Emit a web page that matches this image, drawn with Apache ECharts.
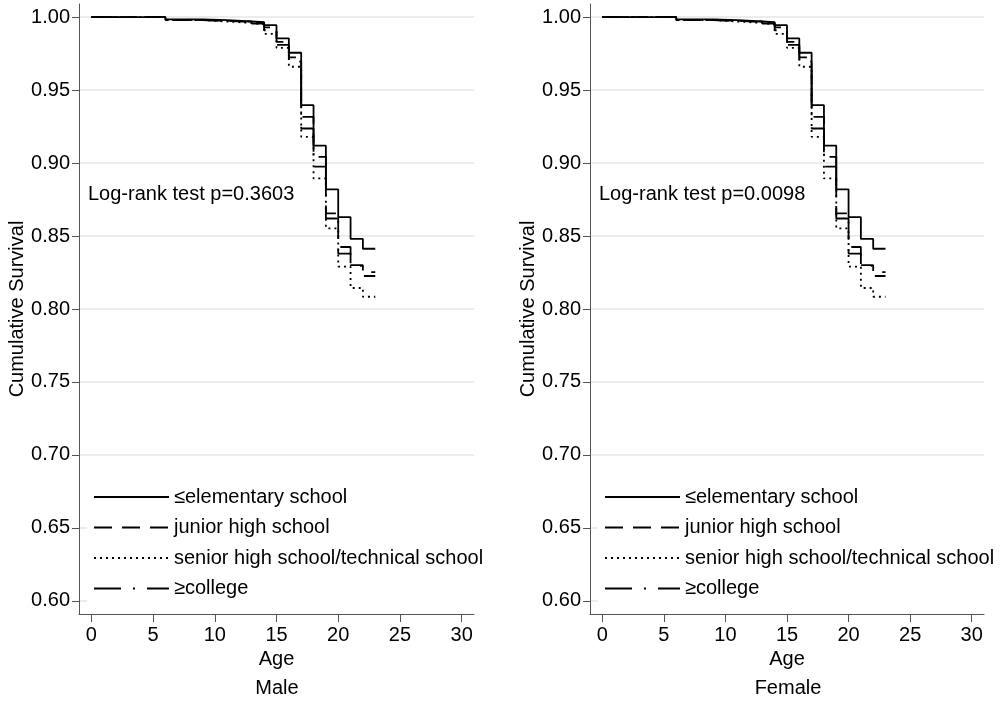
<!DOCTYPE html>
<html>
<head>
<meta charset="utf-8">
<script src="https://cdn.jsdelivr.net/npm/echarts@6/dist/echarts.min.js"></script>
<style>
html,body{margin:0;padding:0;background:#fff;}
#c{width:1004px;height:702px;}
</style>
</head>
<body>
<div id="c"></div>
<script>
// ---- data ----
const ages = [0, 6, 9, 11, 13, 14, 15, 16, 17, 18, 19, 20, 21, 22, 23];
const seriesNames = ['≤elementary school', 'junior high school', 'senior high school/technical school', '≥college'];

const maleElementary = [1, 0.9985, 0.998, 0.997, 0.9965, 0.9945, 0.9854, 0.9756, 0.9397, 0.9119, 0.882, 0.863, 0.848, 0.8413, 0.8413];
const maleJunior     = [1, 0.998, 0.9975, 0.9965, 0.996, 0.993, 0.983, 0.9724, 0.9317, 0.9043, 0.8655, 0.8425, 0.830, 0.8253, 0.8253];
const maleSenior     = [1, 0.998, 0.997, 0.996, 0.995, 0.9885, 0.979, 0.966, 0.918, 0.8895, 0.8553, 0.829, 0.8144, 0.8084, 0.8084];
const maleCollege    = [1, 0.998, 0.9975, 0.997, 0.9955, 0.991, 0.981, 0.9695, 0.9237, 0.8975, 0.862, 0.838, 0.8295, 0.8226, 0.8226];

const femaleElementary = [1, 0.9985, 0.998, 0.997, 0.9965, 0.9945, 0.9854, 0.9756, 0.9397, 0.9119, 0.882, 0.863, 0.848, 0.8413, 0.8413];
const femaleJunior     = [1, 0.998, 0.9975, 0.9965, 0.996, 0.993, 0.983, 0.9724, 0.9317, 0.9043, 0.8655, 0.8425, 0.830, 0.8253, 0.8253];
const femaleSenior     = [1, 0.998, 0.997, 0.996, 0.995, 0.9885, 0.979, 0.966, 0.918, 0.8895, 0.8553, 0.829, 0.8144, 0.8084, 0.8084];
const femaleCollege    = [1, 0.998, 0.9975, 0.997, 0.9955, 0.991, 0.981, 0.9695, 0.9237, 0.8975, 0.862, 0.838, 0.8295, 0.8226, 0.8226];

const xTicks = [0, 5, 10, 15, 20, 25, 30];
const yTicks = [0.60, 0.65, 0.70, 0.75, 0.80, 0.85, 0.90, 0.95, 1.00];
const panelTitles = ['Male', 'Female'];
const logRankTexts = ['Log-rank test p=0.3603', 'Log-rank test p=0.0098'];

// ---- styling ----
const FONT = '"Liberation Sans", Arial, Helvetica, sans-serif';
const FS = 20;
const AXIS_COLOR = '#555';
const lineTypes = ['solid', [18, 10], [2, 4], [27, 12, 2, 12]];

const panels = [
  [maleElementary, maleJunior, maleSenior, maleCollege],
  [femaleElementary, femaleJunior, femaleSenior, femaleCollege]
];

const gridDefs = [
  {left: 79, top: 4, width: 395, height: 610},
  {left: 590, top: 4, width: 394, height: 610}
];

const xAxes = [], yAxes = [], series = [], legends = [], graphics = [];
gridDefs.forEach((g, gi) => {
  xAxes.push({
    gridIndex: gi, type: 'value', min: -1, max: 31,
    name: 'Age', nameLocation: 'middle', nameGap: 32,
    nameTextStyle: {fontFamily: FONT, fontSize: FS, color: '#000'},
    axisLine: {show: true, onZero: false, lineStyle: {color: AXIS_COLOR, width: 1}},
    axisTick: {show: true, length: 8, customValues: xTicks, lineStyle: {color: AXIS_COLOR}},
    axisLabel: {customValues: xTicks, margin: 11, fontFamily: FONT, fontSize: FS, color: '#000'},
    splitLine: {show: false}
  });
  yAxes.push({
    gridIndex: gi, type: 'value', min: 0.591, max: 1.009,
    name: 'Cumulative Survival', nameLocation: 'middle', nameGap: 52, nameRotate: 90,
    nameTextStyle: {fontFamily: FONT, fontSize: FS, color: '#000'},
    axisLine: {show: true, onZero: false, lineStyle: {color: AXIS_COLOR, width: 1}},
    axisTick: {show: true, length: 7, customValues: yTicks, lineStyle: {color: AXIS_COLOR}},
    axisLabel: {customValues: yTicks, margin: 9, fontFamily: FONT, fontSize: FS, color: '#000',
      formatter: v => Number(v).toFixed(2)},
    splitLine: {show: true, lineStyle: {color: '#e6e6e6', width: 1.5}}
  });
  panels[gi].forEach((vals, si) => {
    series.push({
      type: 'line', name: seriesNames[si], xAxisIndex: gi, yAxisIndex: gi,
      step: 'end', symbol: 'none', showSymbol: false,
      data: ages.map((a, i) => [a, vals[i]]),
      lineStyle: {color: '#000', width: 1.8, type: lineTypes[si]},
      itemStyle: {color: '#000'},
      z: 3
    });
  });
  legends.push({
    orient: 'vertical', left: g.left + 8, top: 481,
    padding: [6, 8, 6, 6], backgroundColor: '#fff',
    itemWidth: 75, itemHeight: 20, itemGap: 10.5,
    data: seriesNames,
    selectedMode: false,
    itemStyle: {opacity: 0},
    textStyle: {fontFamily: FONT, fontSize: FS, color: '#000', lineHeight: 20},
    z: 4
  });
  graphics.push({
    type: 'text', left: g.left + 9, top: 184,
    style: {text: logRankTexts[gi], font: FS + 'px ' + FONT, fill: '#000'}
  });
  graphics.push({
    type: 'text', x: g.left + 198, y: 688,
    style: {text: panelTitles[gi], font: FS + 'px ' + FONT, fill: '#000', align: 'center', verticalAlign: 'middle'}
  });
});

const chart = echarts.init(document.getElementById('c'), null, {renderer: 'canvas'});
chart.setOption({
  animation: false,
  backgroundColor: '#fff',
  grid: gridDefs,
  xAxis: xAxes,
  yAxis: yAxes,
  legend: legends,
  series: series,
  graphic: graphics
});
</script>
</body>
</html>
